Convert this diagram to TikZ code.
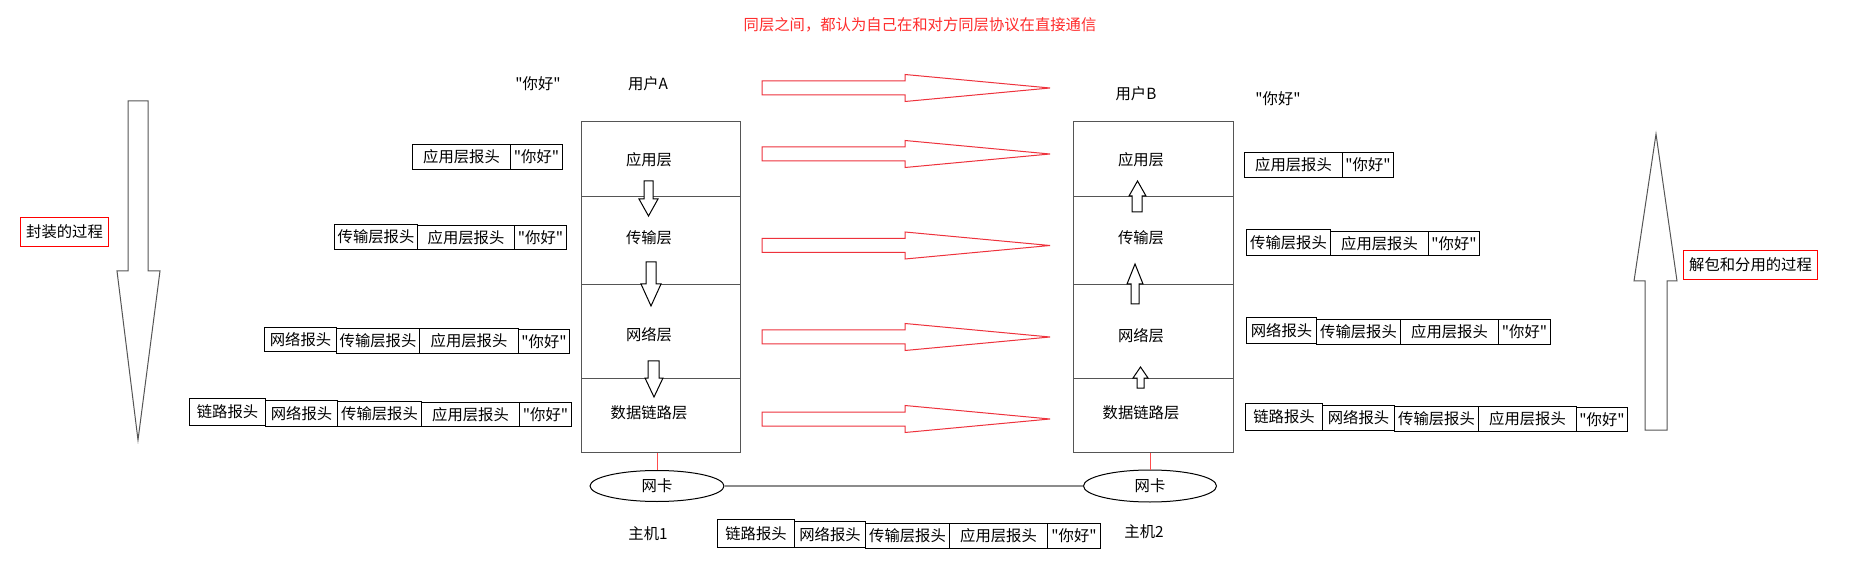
\documentclass[tikz,border=0pt]{standalone}
\usepackage{fontspec}
\newfontfamily\cjkfont{Noto Sans CJK SC}
\usetikzlibrary{shapes.geometric}
\definecolor{tred}{RGB}{255,45,45}
\definecolor{ared}{RGB}{238,50,60}
\definecolor{lgray}{RGB}{85,85,85}
\definecolor{mgray}{RGB}{140,140,140}
\begin{document}
\begin{tikzpicture}[x=0.75pt,y=-0.75pt,
  every node/.style={font=\cjkfont\fontsize{11.5}{13}\selectfont, inner sep=0pt},
  cell/.style={draw=black, line width=0.75pt, anchor=north west},
  cwid/.style={minimum width=#1*0.75pt},
  chgt/.style={minimum height=#1*0.75pt},
  layer/.style={draw=lgray, line width=0.75pt, anchor=north west},
  bigarrow/.style={draw=lgray, line width=0.75pt, fill=white, line join=miter},
  smallarrow/.style={draw=black, line width=0.75pt, fill=white},
  redarrow/.style={draw=ared, line width=0.75pt},
  sidebox/.style={draw=red, line width=0.75pt, inner xsep=3pt, inner ysep=3pt, minimum height=29*0.75pt},
  nic/.style={ellipse, draw=black, line width=0.75pt, fill=white},
]
\fill[white] (0,0) rectangle (1855,566);
\useasboundingbox (0,0) rectangle (1855,566);

% title
\node[text=tred] (title) at (920,25) {同层之间，都认为自己在和对方同层协议在直接通信};

% side big arrows
\draw[bigarrow] (128,101) -- (148,101) -- (148,271) -- (160,271) -- (138,440) -- (117,271) -- (128,271) -- cycle;
\draw[bigarrow] (1645,430) -- (1667,430) -- (1667,281) -- (1677,281) -- (1656,134) -- (1634,281) -- (1645,281) -- cycle;
\node[sidebox, anchor=north west, minimum width=88*0.75pt] (encap) at (20,217) {封装的过程};
\node[sidebox, anchor=north west, minimum width=134*0.75pt] (decap) at (1683,250) {解包和分用的过程};

% user labels
\node (hiA) at (538,84) {"你好"};
\node (userA) at (648,84) {用户A};
\node (userB) at (1136,94) {用户B};
\node (hiB) at (1278,99) {"你好"};

% stacks
\node[layer, cwid=159, chgt=75] (la1) at (581,121) {};
\node[layer, cwid=159, chgt=88] (la2) at (581,196) {};
\node[layer, cwid=159, chgt=94] (la3) at (581,284) {};
\node[layer, cwid=159, chgt=74] (la4) at (581,378) {};
\node[layer, cwid=160, chgt=75] (lb1) at (1073,121) {};
\node[layer, cwid=160, chgt=88] (lb2) at (1073,196) {};
\node[layer, cwid=160, chgt=94] (lb3) at (1073,284) {};
\node[layer, cwid=160, chgt=74] (lb4) at (1073,378) {};

% small arrows inside stacks
\draw[smallarrow] (644,181)--(653,181)--(653,199)--(658,199)--(648.5,216)--(639,199)--(644,199)--cycle;
\draw[smallarrow] (646,262)--(656,262)--(656,284)--(661,284)--(651,306)--(641,284)--(646,284)--cycle;
\draw[smallarrow] (648,361)--(659,361)--(659,378)--(663,378)--(654,397)--(645,378)--(648,378)--cycle;
\draw[smallarrow] (1132,212)--(1142,212)--(1142,196)--(1146,196)--(1137.5,181)--(1129,196)--(1132,196)--cycle;
\draw[smallarrow] (1131,304)--(1139,304)--(1139,284)--(1143,284)--(1135,264)--(1127,284)--(1131,284)--cycle;
\draw[smallarrow] (1137,388)--(1144,388)--(1144,378)--(1148,378)--(1140.5,367)--(1133,378)--(1137,378)--cycle;

% layer names
\node (ta1) at (649,160) {应用层};
\node (ta2) at (649,238) {传输层};
\node (ta3) at (649,335) {网络层};
\node (ta4) at (649,413) {数据链路层};
\node (tb1) at (1141,160) {应用层};
\node (tb2) at (1141,238) {传输层};
\node (tb3) at (1141,336) {网络层};
\node (tb4) at (1141,413) {数据链路层};

% red peer arrows
\foreach \c in {88,154,245.5,337,419}{
  \draw[redarrow] (762,\c-7) -- (905,\c-7) -- (905,\c-13.5) -- (1050,\c) -- (905,\c+13.5) -- (905,\c+7) -- (762,\c+7) -- cycle;
}

% NICs
\node[nic, minimum width=134*0.75pt, minimum height=31*0.75pt] (nic1) at (657,486) {网卡};
\node[nic, minimum width=133*0.75pt, minimum height=32*0.75pt] (nic2) at (1150,486) {网卡};
\draw[red!70, line width=0.75pt] (nic1.north) -- (nic1.north |- la4.south);
\draw[red!70, line width=0.75pt] (nic2.north) -- (nic2.north |- lb4.south);
\draw[mgray, line width=1.5pt] (nic1.east) -- (nic2.west);
\node (host1) at (648,534) {主机1};
\node (host2) at (1144,532) {主机2};

% left packets
\node[cell, cwid=98, chgt=25] (l1a) at (412,144) {应用层报头};
\node[cell, cwid=52, chgt=25] (l1d) at (510,144) {"你好"};

\node[cell, cwid=83, chgt=25] (l2t) at (334,224) {传输层报头};
\node[cell, cwid=97, chgt=24] (l2a) at (417,225) {应用层报头};
\node[cell, cwid=52, chgt=24] (l2d) at (514,225) {"你好"};

\node[cell, cwid=72, chgt=24] (l3n) at (264,327) {网络报头};
\node[cell, cwid=83, chgt=25] (l3t) at (336,328) {传输层报头};
\node[cell, cwid=99, chgt=25] (l3a) at (419,328) {应用层报头};
\node[cell, cwid=51, chgt=24] (l3d) at (518,329) {"你好"};

\node[cell, cwid=76, chgt=27] (l4l) at (189,398) {链路报头};
\node[cell, cwid=72, chgt=26] (l4n) at (265,400) {网络报头};
\node[cell, cwid=84, chgt=25] (l4t) at (337,401) {传输层报头};
\node[cell, cwid=98, chgt=24] (l4a) at (421,402) {应用层报头};
\node[cell, cwid=52, chgt=24] (l4d) at (519,402) {"你好"};

% right packets
\node[cell, cwid=98, chgt=25] (r1a) at (1244,152) {应用层报头};
\node[cell, cwid=51, chgt=25] (r1d) at (1342,152) {"你好"};

\node[cell, cwid=84, chgt=26] (r2t) at (1246,229) {传输层报头};
\node[cell, cwid=98, chgt=24] (r2a) at (1330,231) {应用层报头};
\node[cell, cwid=51, chgt=24] (r2d) at (1428,231) {"你好"};

\node[cell, cwid=70, chgt=26] (r3n) at (1246,317) {网络报头};
\node[cell, cwid=84, chgt=25] (r3t) at (1316,319) {传输层报头};
\node[cell, cwid=98, chgt=25] (r3a) at (1400,319) {应用层报头};
\node[cell, cwid=52, chgt=25] (r3d) at (1498,319) {"你好"};

\node[cell, cwid=77, chgt=27] (r4l) at (1245,403) {链路报头};
\node[cell, cwid=72, chgt=25] (r4n) at (1322,405) {网络报头};
\node[cell, cwid=84, chgt=25] (r4t) at (1394,406) {传输层报头};
\node[cell, cwid=98, chgt=25] (r4a) at (1478,406) {应用层报头};
\node[cell, cwid=51, chgt=24] (r4d) at (1576,407) {"你好"};

% bottom packet
\node[cell, cwid=77, chgt=28] (bl) at (717,519) {链路报头};
\node[cell, cwid=71, chgt=26] (bn) at (794,521) {网络报头};
\node[cell, cwid=84, chgt=25] (bt) at (865,523) {传输层报头};
\node[cell, cwid=98, chgt=25] (ba) at (949,523) {应用层报头};
\node[cell, cwid=53, chgt=25] (bd) at (1047,523) {"你好"};
\end{tikzpicture}
\end{document}
